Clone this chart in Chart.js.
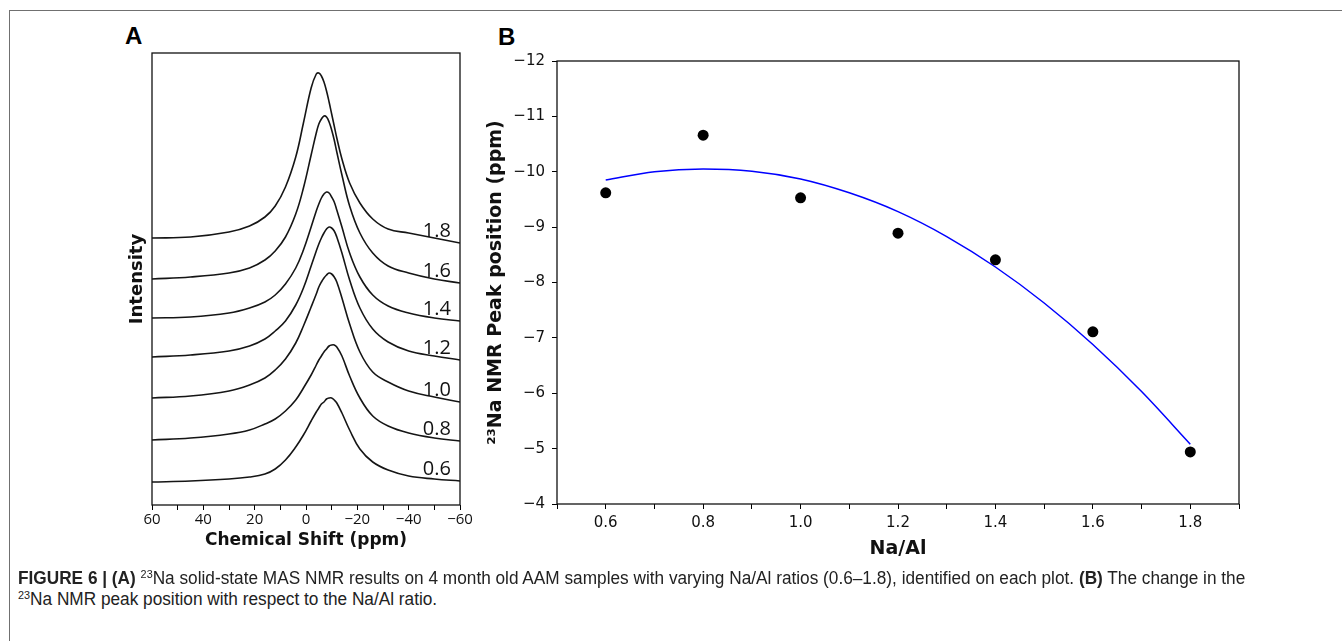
<!DOCTYPE html>
<html>
<head>
<meta charset="utf-8">
<script src="https://cdn.jsdelivr.net/npm/chart.js@4.4.0/dist/chart.umd.min.js"></script>
<style>
  html, body { margin: 0; padding: 0; background: #fff; }
  body { width: 1342px; height: 641px; position: relative; overflow: hidden; }
  #frame { position: absolute; left: 9px; top: 10px; width: 1400px; height: 700px; border-top: 1px solid #707070; border-left: 1px solid #707070; }
  .panel-letter { position: absolute; font: bold 24px 'Liberation Sans', Arial, sans-serif; line-height: 24px; color: #000; }
  #wrapA { position: absolute; left: 100px; top: 20px; }
  #wrapB { position: absolute; left: 470px; top: 20px; }
  .caption { position: absolute; left: 18px; font-family: 'Liberation Sans', Arial, sans-serif; font-size: 17.5px; line-height: 21px; white-space: nowrap; transform-origin: 0 0; color: #222; }
  .caption sup { font-size: 11px; vertical-align: 6px; line-height: 0; }
</style>
</head>
<body>
<div id="frame"></div>
<div class="panel-letter" style="left:125px; top:24px;">A</div>
<div class="panel-letter" style="left:498px; top:25px;">B</div>
<div id="wrapA"><canvas id="nmrSpectra" width="385" height="540"></canvas></div>
<div id="wrapB"><canvas id="peakShift" width="790" height="555"></canvas></div>
<div class="caption" id="cap1" style="top:568px;"><b>FIGURE 6 | (A)</b> <sup>23</sup>Na solid-state MAS NMR results on 4 month old AAM samples with varying Na/Al ratios (0.6–1.8), identified on each plot. <b>(B)</b> The change in the</div>
<div class="caption" id="cap2" style="top:589px;"><sup>23</sup>Na NMR peak position with respect to the Na/Al ratio.</div>

<script>
// Panel A: stacked 23Na MAS NMR spectra (intensity incl. stacking offset)
const shiftPpm = [60, 45, 30, 22, 16, 12, 8, 4, 1, -2, -4, -5, -6, -7, -8, -9, -10, -11, -12, -14, -17, -21, -26, -32, -40, -50, -60];
const ratioLabels = ['1.8', '1.6', '1.4', '1.2', '1.0', '0.8', '0.6'];
const spec18 = [267, 268, 273, 279, 288, 299, 318, 348, 382, 417, 431, 432, 429, 423, 414, 403, 391, 379, 367, 346, 322, 302, 286, 276, 272, 267, 262];
const spec16 = [226, 228, 232, 237, 245, 254, 268, 291, 317, 350, 372, 381, 386, 389, 388, 383, 375, 365, 353, 330, 299, 272, 252, 239, 232, 226, 222];
const spec14 = [187, 188, 192, 197, 203, 210, 221, 237, 255, 278, 294, 301, 307, 311, 313, 312, 308, 303, 295, 278, 252, 228, 210, 199, 192, 187, 184];
const spec12 = [148, 150, 154, 159, 166, 174, 184, 200, 217, 239, 254, 261, 267, 272, 276, 278, 277, 274, 268, 252, 225, 197, 176, 163, 154, 149, 145];
const spec10 = [107, 109, 114, 120, 127, 135, 146, 162, 179, 198, 211, 218, 223, 227, 230, 232, 231, 228, 223, 207, 181, 153, 133, 123, 114, 108, 103];
const spec08 = [65, 67, 71, 75, 81, 86, 94, 105, 117, 130, 140, 145, 149, 153, 156, 159, 160, 160, 158, 149, 129, 107, 89, 79, 72, 67, 64];
const spec06 = [23, 24, 26, 28, 31, 36, 45, 58, 70, 84, 93, 97, 101, 103, 106, 107, 107, 105, 102, 92, 75, 56, 43, 35, 29, 26, 24];
const shiftTicks = [60, 40, 20, 0, -20, -40, -60];

// Panel B: peak position vs Na/Al, with fitted curve
const naAl = [0.6, 0.8, 1.0, 1.2, 1.4, 1.6, 1.8];
const peakPosition = [-9.62, -10.66, -9.53, -8.89, -8.41, -7.11, -4.94];
const fitNaAl = [0.6, 0.7, 0.8, 0.9, 1.0, 1.1, 1.2, 1.3, 1.4, 1.5, 1.6, 1.7, 1.8];
const fitPeak = [-9.85, -10.0, -10.05, -10.01, -9.87, -9.62, -9.28, -8.83, -8.28, -7.63, -6.88, -6.03, -5.08];
const naAlTicks = [0.6, 0.8, 1.0, 1.2, 1.4, 1.6, 1.8];
const peakTicks = [-12, -11, -10, -9, -8, -7, -6, -5, -4];

// Number with a real minus sign, like the original figure
function fmt(v, digits) {
    const s = Math.abs(v).toFixed(digits);
    return v < 0 ? '\u2212' + s : s;
}

// Draw a frame around the plot area
const boxPlugin = {
    id: 'box',
    afterDraw(chart, args, opts) {
        const { ctx, chartArea: a } = chart;
        ctx.save();
        ctx.strokeStyle = opts.color || '#000';
        ctx.lineWidth = opts.width || 1.2;
        ctx.strokeRect(a.left, a.top, a.right - a.left, a.bottom - a.top);
        ctx.restore();
    }
};

// Na/Al ratio written above the right end of each spectrum
const ratioLabelPlugin = {
    id: 'ratioLabels',
    afterDatasetsDraw(chart) {
        const { ctx, scales: { x, y } } = chart;
        ctx.save();
        ctx.font = '20px "Open Sans"';
        ctx.fillStyle = '#111';
        ctx.textAlign = 'center';
        ctx.textBaseline = 'middle';
        chart.data.datasets.forEach(ds => {
            const last = ds.data[ds.data.length - 1];
            ctx.fillText(ds.label, x.getPixelForValue(-51), y.getPixelForValue(last.y) - 12);
        });
        ctx.restore();
    }
};

Chart.defaults.font.family = '"DejaVu Sans"';
Chart.defaults.color = '#111';

function initializeSpectraChart() {
    const ctx = document.getElementById('nmrSpectra');
    const spectra = [spec18, spec16, spec14, spec12, spec10, spec08, spec06];

    new Chart(ctx, {
        type: 'line',
        data: {
            datasets: spectra.map((s, i) => ({
                label: ratioLabels[i],
                data: shiftPpm.map((x, j) => ({ x: x, y: s[j] })),
                borderColor: '#151515',
                borderWidth: 1.6,
                pointRadius: 0,
                tension: 0.4,
                fill: false
            }))
        },
        options: {
            responsive: false,
            animation: false,
            devicePixelRatio: 1,
            layout: { padding: { top: 33, right: 25, left: 0, bottom: 0 } },
            scales: {
                x: {
                    type: 'linear',
                    reverse: true,
                    min: -60,
                    max: 60,
                    afterFit(scale) {
                        scale.height = 55;
                        scale.paddingLeft = 0;
                        scale.paddingRight = 0;
                    },
                    ticks: {
                        stepSize: 10,
                        autoSkip: false,
                        maxRotation: 0,
                        padding: 1,
                        font: { family: '"Open Sans"', size: 15 },
                        callback: v => shiftTicks.includes(v) ? fmt(v, 0) : ''
                    },
                    grid: { display: true, drawOnChartArea: false, drawTicks: true, tickLength: 5, color: '#000', lineWidth: 1 },
                    border: { display: false },
                    title: {
                        display: true,
                        text: 'Chemical Shift (ppm)',
                        font: { size: 17, weight: 'bold' },
                        padding: { top: 0, bottom: 9 }
                    }
                },
                y: {
                    type: 'linear',
                    min: 0,
                    max: 452,
                    afterFit(scale) {
                        scale.width = 52;
                        scale.paddingTop = 0;
                        scale.paddingBottom = 0;
                    },
                    ticks: { display: false },
                    grid: { display: false },
                    border: { display: false },
                    title: {
                        display: true,
                        text: 'Intensity',
                        font: { size: 18, weight: 'bold' },
                        padding: { top: 27, bottom: 0 }
                    }
                }
            },
            plugins: {
                legend: { display: false },
                tooltip: { enabled: false },
                box: { color: '#111', width: 1.3 }
            }
        },
        plugins: [boxPlugin, ratioLabelPlugin]
    });
}

function initializePeakChart() {
    const ctx = document.getElementById('peakShift');

    new Chart(ctx, {
        type: 'scatter',
        data: {
            datasets: [
                {
                    label: 'Peak position',
                    data: naAl.map((x, i) => ({ x: x, y: peakPosition[i] })),
                    pointRadius: 5.5,
                    pointBackgroundColor: '#000',
                    pointBorderWidth: 0,
                    showLine: false
                },
                {
                    label: 'Fit',
                    data: fitNaAl.map((x, i) => ({ x: x, y: fitPeak[i] })),
                    showLine: true,
                    borderColor: '#0000ff',
                    borderWidth: 1.5,
                    pointRadius: 0,
                    cubicInterpolationMode: 'monotone',
                    fill: false
                }
            ]
        },
        options: {
            responsive: false,
            animation: false,
            devicePixelRatio: 1,
            layout: { padding: { top: 41, right: 21, left: 0, bottom: 0 } },
            scales: {
                x: {
                    type: 'linear',
                    min: 0.5,
                    max: 1.9,
                    afterFit(scale) {
                        scale.height = 71;
                        scale.paddingLeft = 0;
                        scale.paddingRight = 0;
                    },
                    ticks: {
                        stepSize: 0.1,
                        autoSkip: false,
                        maxRotation: 0,
                        padding: 5,
                        font: { size: 15 },
                        callback: v => naAlTicks.some(t => Math.abs(t - v) < 1e-6) ? v.toFixed(1) : ''
                    },
                    grid: { display: true, drawOnChartArea: false, drawTicks: true, tickLength: 5, color: '#000', lineWidth: 1 },
                    border: { display: false },
                    title: {
                        display: true,
                        text: 'Na/Al',
                        font: { size: 19, weight: 'bold' },
                        padding: { top: 0, bottom: 15 }
                    }
                },
                y: {
                    type: 'linear',
                    reverse: true,
                    min: -12,
                    max: -4,
                    afterFit(scale) {
                        scale.width = 87;
                        scale.paddingTop = 0;
                        scale.paddingBottom = 0;
                    },
                    ticks: {
                        stepSize: 1,
                        padding: 7,
                        font: { size: 15 },
                        callback: v => peakTicks.includes(v) ? fmt(v, 0) : ''
                    },
                    grid: { display: true, drawOnChartArea: false, drawTicks: true, tickLength: 5, color: '#000', lineWidth: 1 },
                    border: { display: false },
                    title: {
                        display: true,
                        text: '\u00b2\u00b3Na NMR Peak position (ppm)',
                        font: { size: 19, weight: 'bold' },
                        padding: { top: 15, bottom: 0 }
                    }
                }
            },
            plugins: {
                legend: { display: false },
                tooltip: { enabled: false },
                box: { color: '#111', width: 1.3 }
            }
        },
        plugins: [boxPlugin]
    });
}

// Fit the caption lines to the width of the original text block
function fitCaption() {
    const cap1 = document.getElementById('cap1');
    const cap2 = document.getElementById('cap2');
    const s = 1227 / cap1.scrollWidth;
    [cap1, cap2].forEach(el => { el.style.transform = 'scaleX(' + s + ')'; });
}

initializeSpectraChart();
initializePeakChart();
fitCaption();
</script>
</body>
</html>
